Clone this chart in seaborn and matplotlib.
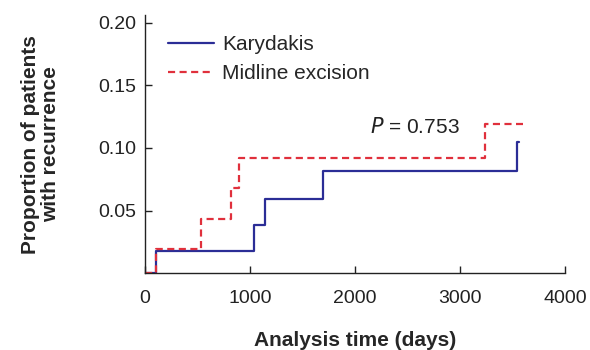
import matplotlib
matplotlib.use("Agg")
import matplotlib.pyplot as plt
import seaborn as sns
import pandas as pd

# step data (days, cumulative proportion)
kary_time = [0, 100, 1041, 1146, 1698, 3546, 3560]
kary_prop = [0.0, 0.0178, 0.0384, 0.0593, 0.082, 0.105, 0.105]

mid_time = [0, 100, 533, 816, 898, 3238, 3603]
mid_prop = [0.0, 0.0197, 0.043, 0.068, 0.092, 0.119, 0.119]

groups = ["Karydakis", "Midline excision"]
x_ticks = [0, 1000, 2000, 3000, 4000]
y_ticks = [0.05, 0.10, 0.15, 0.20]

BLUE = "#2b2d96"
RED = "#e0303c"

df = pd.concat([
    pd.DataFrame({"time": kary_time, "prop": kary_prop, "group": groups[0]}),
    pd.DataFrame({"time": mid_time, "prop": mid_prop, "group": groups[1]}),
], ignore_index=True)

sns.set_style("ticks")
plt.rcParams["font.family"] = ["Liberation Sans", "DejaVu Sans"]

fig = plt.figure(figsize=(5.9, 3.5), dpi=100)
ax = fig.add_axes([0.2458, 0.219, 0.712, 0.738])

sns.lineplot(
    data=df, x="time", y="prop", hue="group", style="group",
    palette={groups[0]: BLUE, groups[1]: RED},
    dashes={groups[0]: "", groups[1]: (3.2, 2)},
    drawstyle="steps-post", estimator=None, linewidth=1.6, ax=ax,
)

ax.set_xlim(0, 4000)
ax.set_ylim(0, 0.206)
ax.set_xticks(x_ticks)
ax.set_yticks(y_ticks)
ax.set_yticklabels([f"{v:.2f}" for v in y_ticks])
ax.tick_params(direction="in", length=5, width=1, labelsize=14, colors="#222222")
ax.tick_params(axis="y", pad=6)
ax.tick_params(axis="x", pad=12)
for s in ["top", "right"]:
    ax.spines[s].set_visible(False)
for s in ["left", "bottom"]:
    ax.spines[s].set_color("#222222")
    ax.spines[s].set_linewidth(1)

ax.set_xlabel("Analysis time (days)", fontsize=15, fontweight="bold", labelpad=17)
ax.set_ylabel("Proportion of patients\nwith recurrence", fontsize=15,
              fontweight="bold", labelpad=28, linespacing=1.05)

ax.text(2140, 0.1167, "$P$ = 0.753", fontsize=15, va="center", ha="left",
        color="#222222")

leg = ax.legend(loc="upper left", bbox_to_anchor=(0.035, 0.955), frameon=False,
                fontsize=15, handlelength=2.2, handletextpad=0.4,
                labelspacing=0.5, borderaxespad=0)
leg.set_title(None)

fig.savefig("out.png", dpi=100)
